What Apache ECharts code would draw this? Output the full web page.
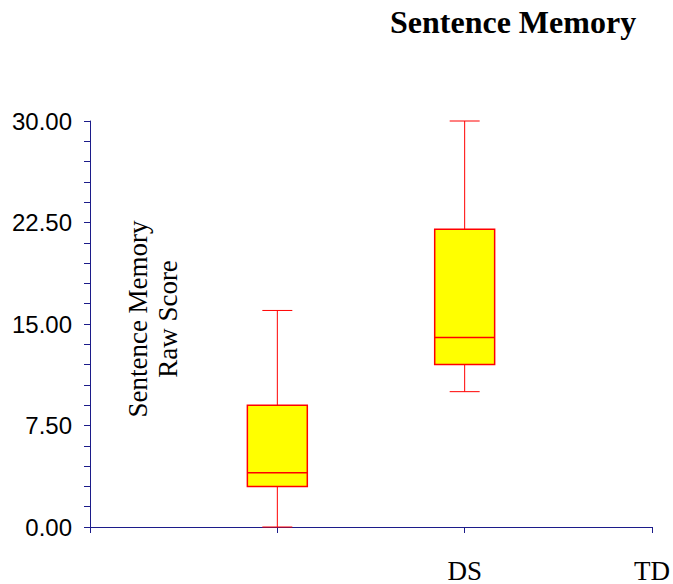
<!DOCTYPE html>
<html>
<head>
<meta charset="utf-8">
<script src="https://cdn.jsdelivr.net/npm/echarts@6/dist/echarts.min.js"></script>
<style>
  html, body { margin: 0; padding: 0; background: #ffffff; }
  #chart { width: 673px; height: 584px; }
</style>
</head>
<body>
<div id="chart"></div>
<script>
// ---- data ----
const titleText = 'Sentence Memory';
const yAxisTitle = 'Sentence Memory\nRaw Score';
const xTickLabels = ['', '', 'DS', 'TD'];          // labels at x ticks 0,1,2,3
const boxPositions = [1, 2];                        // x positions of the two boxes
const boxStats = [                                  // [min, Q1, median, Q3, max]
  [0, 3, 4, 9, 16],
  [10, 12, 14, 22, 30]
];
const yMin = 0, yMax = 30, yStep = 7.5;

const seriesData = boxPositions.map((x, i) => [x].concat(boxStats[i]));

const axisColor = '#1c1c8a';
const boxRed = '#ff0000';
const boxFill = '#ffff00';

function renderBox(params, api) {
  const x = api.value(0);
  const vMin = api.value(1), q1 = api.value(2), med = api.value(3), q3 = api.value(4), vMax = api.value(5);
  const cx = api.coord([x, med])[0];
  const yOf = v => api.coord([x, v])[1];
  const bw = api.size([1, 0])[0] * 0.32;
  const half = bw / 2;
  const cap = half / 2;
  const lineStyle = { stroke: boxRed, lineWidth: 1 };
  return {
    type: 'group',
    children: [
      { type: 'line', shape: { x1: cx, y1: yOf(q3), x2: cx, y2: yOf(vMax) }, style: lineStyle },
      { type: 'line', shape: { x1: cx, y1: yOf(q1), x2: cx, y2: yOf(vMin) }, style: lineStyle },
      { type: 'line', shape: { x1: cx - cap, y1: yOf(vMax), x2: cx + cap, y2: yOf(vMax) }, style: lineStyle },
      { type: 'line', shape: { x1: cx - cap, y1: yOf(vMin), x2: cx + cap, y2: yOf(vMin) }, style: lineStyle },
      { type: 'rect', shape: { x: cx - half, y: yOf(q3), width: bw, height: yOf(q1) - yOf(q3) },
        style: { fill: boxFill, stroke: boxRed, lineWidth: 1.5 } },
      { type: 'line', shape: { x1: cx - half, y1: yOf(med), x2: cx + half, y2: yOf(med) },
        style: { stroke: boxRed, lineWidth: 1.5 } }
    ]
  };
}

const chart = echarts.init(document.getElementById('chart'), null, { renderer: 'svg' });
chart.setOption({
  animation: false,
  backgroundColor: '#ffffff',
  title: {
    text: titleText,
    left: 390,
    top: 6,
    padding: 0,
    textStyle: { fontFamily: '"Liberation Serif", "Times New Roman", serif', fontWeight: 'bold', fontSize: 32, color: '#000000' }
  },
  grid: { left: 90, right: 20, top: 121, bottom: 57, containLabel: false },
  xAxis: {
    type: 'value',
    min: 0, max: 3, interval: 1,
    axisLine: { show: true, lineStyle: { color: axisColor, width: 1 } },
    axisTick: { show: true, inside: false, length: 6, lineStyle: { color: axisColor } },
    splitLine: { show: false },
    axisLabel: {
      margin: 30,
      formatter: v => xTickLabels[Math.round(v)] || '',
      fontFamily: '"Liberation Serif", "Times New Roman", serif',
      fontSize: 27,
      color: '#000000'
    }
  },
  yAxis: {
    type: 'value',
    min: yMin, max: yMax, interval: yStep,
    axisLine: { show: true, lineStyle: { color: axisColor, width: 1 } },
    axisTick: { show: true, inside: false, length: 6, lineStyle: { color: axisColor } },
    minorTick: { show: true, splitNumber: 5, length: 6, lineStyle: { color: axisColor } },
    splitLine: { show: false },
    axisLabel: {
      margin: 18,
      formatter: v => v.toFixed(2),
      fontFamily: '"Liberation Sans", Arial, sans-serif',
      fontSize: 24,
      color: '#000000'
    }
  },
  graphic: [{
    type: 'text',
    x: 153,
    y: 319,
    rotation: Math.PI / 2,
    style: {
      text: yAxisTitle,
      font: '27px "Liberation Serif", "Times New Roman", serif',
      fill: '#000000',
      align: 'center',
      verticalAlign: 'middle',
      lineHeight: 30
    }
  }],
  series: [{
    type: 'custom',
    renderItem: renderBox,
    encode: { x: 0, y: [1, 2, 3, 4, 5] },
    data: seriesData,
    z: 5
  }]
});
</script>
</body>
</html>
